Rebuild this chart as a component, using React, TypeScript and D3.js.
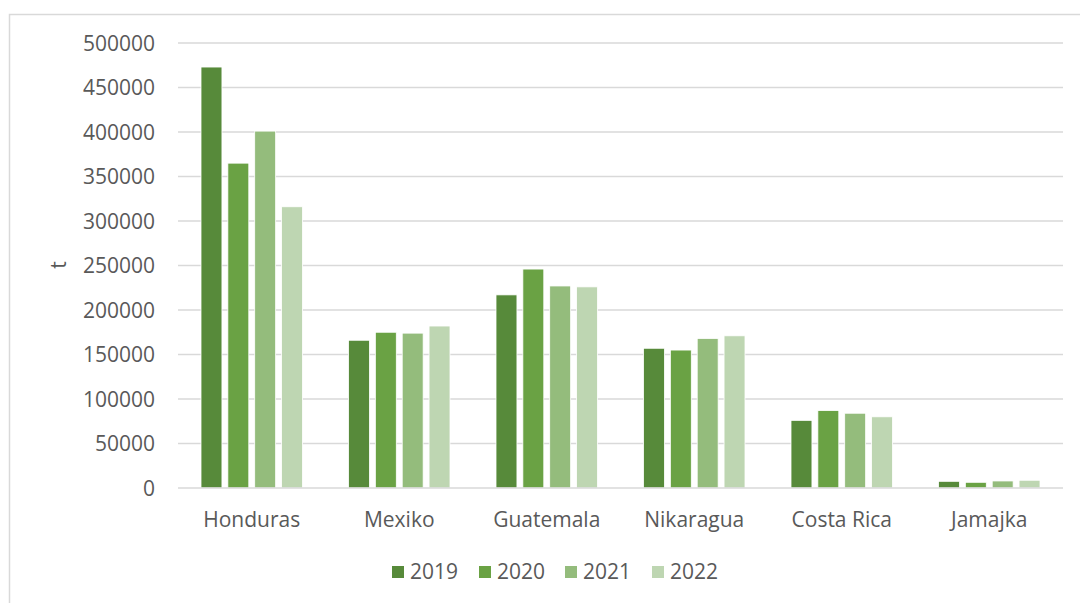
import React from "react";
import * as d3 from "d3";

const categories = ["Honduras", "Mexiko", "Guatemala", "Nikaragua", "Costa Rica", "Jamajka"];
const years = ["2019", "2020", "2021", "2022"];
const v2019 = [473000, 166000, 217000, 157000, 76000, 7500];
const v2020 = [365000, 175000, 246000, 155000, 87000, 6400];
const v2021 = [401000, 174000, 227000, 168000, 84000, 7900];
const v2022 = [316000, 182000, 226000, 171000, 80000, 8700];
const yTicks = [0, 50000, 100000, 150000, 200000, 250000, 300000, 350000, 400000, 450000, 500000];
const colors = ["#578a3a", "#6aa244", "#94bc7c", "#bed6b2"];

const series = [v2019, v2020, v2021, v2022];

const W = 1080, H = 603;
const L = 178, R = 1063, T = 43, B = 488;
const FONT = "'Open Sans', 'Liberation Sans', sans-serif";
const FS = 21;

export default function App() {
  const x0 = d3.scaleBand().domain(categories).range([L, R]).paddingInner(0).paddingOuter(0);
  const x1 = d3.scaleBand().domain(years).range([23, x0.bandwidth() - 23]).paddingInner(0.22).paddingOuter(0);
  const y = d3.scaleLinear().domain([0, 500000]).range([B, T]);

  const legendX = [392, 479, 565, 652];

  return (
    <svg width={W} height={H} style={{ position: "absolute", left: 0, top: 0, background: "#fff" }}>
      <rect x={9.5} y={14.5} width={W + 10} height={H + 10} fill="#fff" stroke="#d9d9d9" strokeWidth={1.5} />
      {yTicks.map((t) => (
        <g key={t}>
          {t > 0 && <line x1={L} x2={R} y1={y(t)} y2={y(t)} stroke="#d9d9d9" strokeWidth={1.5} />}
          <text x={155} y={y(t)} dy="0.36em" textAnchor="end" fontFamily={FONT} fontSize={FS} fill="#595959">{t}</text>
        </g>
      ))}
      {categories.map((c, i) => (
        <g key={c} transform={`translate(${x0(c)},0)`}>
          {series.map((s, j) => (
            <rect key={j} x={x1(years[j])} y={y(s[i])} width={x1.bandwidth()} height={B - y(s[i])}
              fill={colors[j]} stroke="#fff" strokeWidth={0.8} />
          ))}
          <text x={x0.bandwidth() / 2} y={527} textAnchor="middle" fontFamily={FONT} fontSize={FS} fill="#595959">{c}</text>
        </g>
      ))}
      <line x1={L} x2={R} y1={B} y2={B} stroke="#d9d9d9" strokeWidth={1.5} />
      <text transform={`translate(66,265) rotate(-90)`} textAnchor="middle" fontFamily={FONT} fontSize={FS} fill="#595959">t</text>
      {years.map((yr, j) => (
        <g key={yr}>
          <rect x={legendX[j]} y={566} width={12} height={12} fill={colors[j]} />
          <text x={legendX[j] + 18} y={579} fontFamily={FONT} fontSize={FS} fill="#595959">{yr}</text>
        </g>
      ))}
    </svg>
  );
}
